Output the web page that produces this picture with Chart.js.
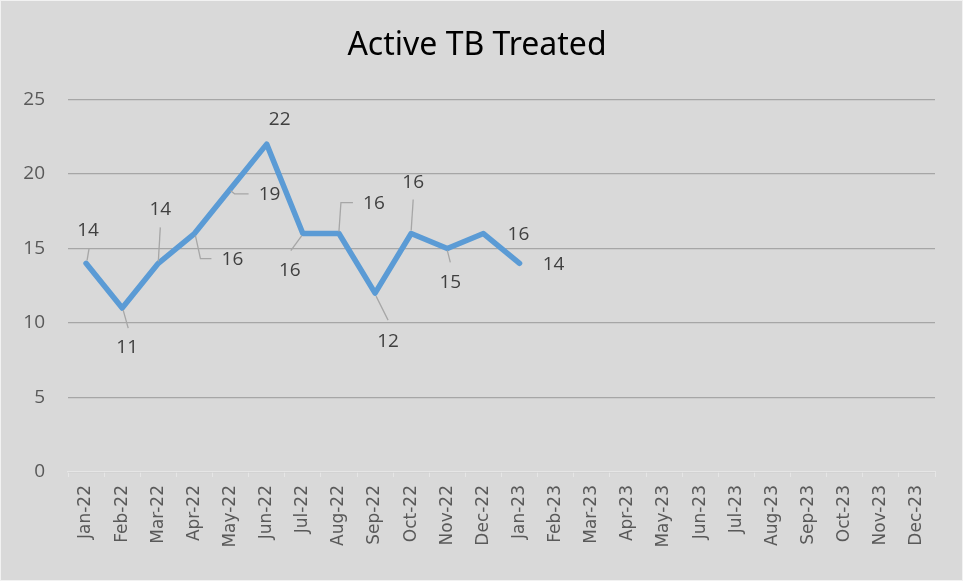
<!DOCTYPE html>
<html lang="en">
<head>
  <meta charset="UTF-8" />
  <title>Active TB Treated</title>
  <script src="https://cdn.jsdelivr.net/npm/chart.js"></script>
  <style>
    html, body { margin: 0; padding: 0; background: #d9d9d9; }
    #wrap { width: 963px; height: 581px; box-sizing: border-box; border: 1px solid #f2f2f2; }
  </style>
</head>
<body>
<div id="wrap"><canvas id="tbChart" width="961" height="579"></canvas></div>

<script>
  // chart data
  const months = ['Jan-22', 'Feb-22', 'Mar-22', 'Apr-22', 'May-22', 'Jun-22', 'Jul-22', 'Aug-22',
                  'Sep-22', 'Oct-22', 'Nov-22', 'Dec-22', 'Jan-23', 'Feb-23', 'Mar-23', 'Apr-23',
                  'May-23', 'Jun-23', 'Jul-23', 'Aug-23', 'Sep-23', 'Oct-23', 'Nov-23', 'Dec-23'];
  const treated = [14, 11, 14, 16, 19, 22, 16, 16, 12, 16, 15, 16, 14,
                   null, null, null, null, null, null, null, null, null, null, null];
  const yTicks = [0, 5, 10, 15, 20, 25];

  // where each data label sits relative to its point (px), plus its leader line
  const labelSpots = [
    { dx: 2,  dy: -33, lead: [[1, -3], [3, -15]] },
    { dx: 5,  dy: 40,  lead: [[1, 2], [6, 20]] },
    { dx: 2,  dy: -54, lead: [[0, -2], [2, -36]] },
    { dx: 38, dy: 26,  lead: [[1, 2], [6, 25], [17, 25]] },
    { dx: 39, dy: 6,   lead: [[0, 2], [4, 5], [18, 5]] },
    { dx: 13, dy: -25, lead: null },
    { dx: -13, dy: 37, lead: [[-1, 2], [-12, 17]] },
    { dx: 35, dy: -30, lead: [[0, -2], [2, -31], [14, -31]] },
    { dx: 13, dy: 48,  lead: [[1, 3], [13, 27]] },
    { dx: 2,  dy: -51, lead: [[0, -3], [2, -34]] },
    { dx: 3,  dy: 34,  lead: [[0, 2], [3, 14]] },
    { dx: 35, dy: 1,   lead: null },
    { dx: 34, dy: 1,   lead: null }
  ];

  const bgPlugin = {
    id: 'bg',
    beforeDraw(chart) {
      const c = chart.ctx;
      c.save();
      c.fillStyle = '#d9d9d9';
      c.fillRect(0, 0, chart.width, chart.height);
      c.restore();
    }
  };

  const labelPlugin = {
    id: 'pointLabels',
    afterDatasetsDraw(chart) {
      const c = chart.ctx;
      const meta = chart.getDatasetMeta(0);
      c.save();
      meta.data.forEach((pt, i) => {
        const v = treated[i];
        const spot = labelSpots[i];
        if (v === null || !spot) return;
        if (spot.lead) {
          c.strokeStyle = '#a6a6a6';
          c.lineWidth = 1.3;
          c.beginPath();
          spot.lead.forEach((p, k) => {
            if (k === 0) c.moveTo(pt.x + p[0], pt.y + p[1]);
            else c.lineTo(pt.x + p[0], pt.y + p[1]);
          });
          c.stroke();
        }
        c.fillStyle = '#404040';
        c.font = '19px "Open Sans"';
        c.textAlign = 'center';
        c.textBaseline = 'middle';
        c.fillText(String(v), pt.x + spot.dx, pt.y + spot.dy);
      });
      c.restore();
    }
  };

  new Chart(document.getElementById('tbChart'), {
    type: 'line',
    data: {
      labels: months,
      datasets: [{
        label: 'Active TB Treated',
        data: treated,
        borderColor: '#5b9bd5',
        borderWidth: 5.5,
        borderCapStyle: 'round',
        borderJoinStyle: 'round',
        pointRadius: 0,
        tension: 0,
        spanGaps: false
      }]
    },
    options: {
      responsive: false,
      animation: false,
      layout: { padding: { left: 18, right: 27, bottom: 0, top: 0 } },
      plugins: {
        legend: { display: false },
        tooltip: { enabled: false },
        title: {
          display: true,
          text: 'Active TB Treated',
          color: '#000000',
          font: { family: '"Noto Sans"', size: 32, weight: 'normal' },
          padding: { top: 26, bottom: 34 }
        }
      },
      scales: {
        x: {
          offset: true,
          grid: { display: true, drawOnChartArea: false, color: '#e6e6e6', tickLength: 5, offset: true },
          border: { color: '#e6e6e6', width: 1.3 },
          ticks: {
            color: '#595959',
            font: { family: '"DejaVu Sans"', size: 17 },
            minRotation: 90,
            maxRotation: 90,
            autoSkip: false,
            padding: 8
          },
          afterFit(scale) { scale.height = 108; }
        },
        y: {
          min: 0,
          max: 25,
          afterBuildTicks(scale) { scale.ticks = yTicks.map(v => ({ value: v })); },
          grid: { color: '#a6a6a6', lineWidth: 1.3, drawTicks: false },
          border: { display: false },
          ticks: {
            color: '#595959',
            font: { family: '"Open Sans"', size: 19 },
            padding: 23
          },
          afterFit(scale) { scale.width = 49; }
        }
      }
    },
    plugins: [bgPlugin, labelPlugin]
  });
</script>
</body>
</html>
